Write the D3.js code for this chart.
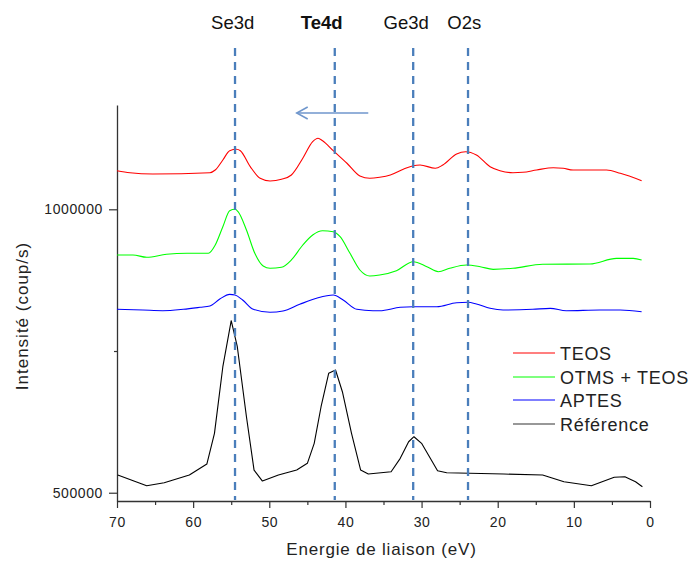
<!DOCTYPE html>
<html>
<head>
<meta charset="utf-8">
<script src="https://cdn.jsdelivr.net/npm/d3@7"></script>
<style>
  html, body { margin: 0; padding: 0; background: #fff; }
  svg { display: block; font-family: "Liberation Sans", Arial, sans-serif; }
</style>
</head>
<body>
<svg id="chart" width="692" height="561"></svg>
<script>
// ---- data (binding energy eV, intensity counts/s) ----
const teosE = [70.0,68.3,65.3,57.8,57.1,56.1,55.2,54.3,53.8,52.5,51.2,49.9,48.4,47.1,45.6,44.3,43.6,43.0,41.6,39.8,38.1,36.8,35.5,34.1,32.4,31.1,30.2,28.2,27.2,25.4,24.2,22.8,21.0,19.7,18.0,16.7,14.9,12.7,11.4,10.1,5.7,3.9,1.1];
const teosI = [1068100,1064600,1062300,1064600,1069300,1087000,1103400,1105900,1103400,1075200,1054700,1049900,1052900,1060500,1090000,1119300,1125300,1121000,1103400,1081200,1058800,1054700,1056500,1060500,1070600,1076900,1078200,1072300,1078200,1097600,1101600,1095800,1075200,1068100,1064600,1065300,1069300,1073400,1072300,1069300,1069300,1063500,1050500];

const otmsE = [70.0,67.9,66.1,63.5,60.8,58.0,57.1,56.1,55.2,54.5,54.1,53.0,51.9,50.8,49.9,48.4,47.1,45.6,44.3,43.0,41.6,40.7,39.4,38.1,36.8,35.5,33.3,31.1,29.3,27.8,26.3,24.1,22.3,20.6,18.0,14.1,7.9,4.4,2.2,1.1];
const otmsI = [919400,919400,915300,920600,922400,922400,937000,969300,997500,1000000,995800,963500,922400,900000,895900,897700,910600,937000,954700,962200,960500,951700,922400,892900,882300,884100,891700,907600,898700,889900,895900,901700,898700,894100,895900,903000,903500,913500,913500,910600];

const aptesE = [70.0,66.6,64.0,61.3,59.1,57.8,56.5,55.2,54.5,53.5,52.1,49.9,48.2,46.0,43.8,41.6,40.3,38.5,36.4,35.5,32.8,31.1,28.0,25.4,23.9,22.8,21.0,19.3,15.4,13.1,11.0,6.6,3.9,1.1];
const aptesI = [823600,822300,821100,823600,827100,829400,841700,850000,848800,840000,823600,818300,820600,832400,843000,848800,840000,823600,821100,821100,827100,828200,828200,835200,835900,832900,825300,822300,823600,825300,821100,822300,822300,819300];

const refE = [69.9,66.1,63.8,60.5,58.2,57.2,56.1,55.0,54.2,53.0,52.0,50.9,48.8,46.4,45.0,44.1,43.2,42.2,41.3,40.4,39.2,38.0,37.0,34.0,32.8,31.7,31.0,30.0,27.9,26.7,19.2,14.1,11.3,7.7,4.7,3.3,1.9,1.0];
const refI = [531200,512350,517650,531200,550600,604800,722300,803500,757600,634100,540000,520600,531200,540000,551900,587150,651700,710650,716500,678200,604800,540000,533000,537050,560700,589950,598800,587150,538800,535300,533000,531200,519400,512350,527200,528200,519400,510600];

const seriesNames = ["TEOS", "OTMS + TEOS", "APTES", "Référence"];
const seriesColors = ["#ff0000", "#00ff00", "#0000ff", "#000000"];
const legendColors = ["#ff0000", "#00ff00", "#0000ff", "#333333"];

const xTicks = [70, 60, 50, 40, 30, 20, 10, 0];
const xMinorTicks = [65, 55, 45, 35, 25, 15, 5];
const yTicks = [1000000, 500000];
const yMinorTicks = [750000];

const peakNames = ["Se3d", "Te4d", "Ge3d", "O2s"];
const peakPositions = [54.5, 41.4, 31.1, 23.9];
const peakBold = [false, true, false, false];
const arrowFrom = 37.0, arrowTo = 46.4;

// ---- layout ----
const svg = d3.select("#chart");
const mLeft = 117, mRight = 650, mTop = 105, mBottom = 501;
const x = d3.scaleLinear().domain([70, 0]).range([mLeft, mRight]);
const y = d3.scaleLinear().domain([485400, 1184000]).range([mBottom, mTop]);

const axisColor = "#333";
const textColor = "#222";

// x axis
const gx = svg.append("g").attr("transform", `translate(0,${mBottom})`)
  .call(d3.axisBottom(x).tickValues(xTicks).tickSize(7).tickSizeOuter(0).tickPadding(6).tickFormat(d3.format("d")));
svg.append("g").attr("transform", `translate(0,${mBottom})`)
  .call(d3.axisBottom(x).tickValues(xMinorTicks).tickSize(4).tickSizeOuter(0).tickFormat(""))
  .call(g => g.select(".domain").remove());
// y axis
const gy = svg.append("g").attr("transform", `translate(${mLeft},0)`)
  .call(d3.axisLeft(y).tickValues(yTicks).tickSize(8).tickSizeOuter(0).tickPadding(6).tickFormat(d3.format("d")));
svg.append("g").attr("transform", `translate(${mLeft},0)`)
  .call(d3.axisLeft(y).tickValues(yMinorTicks).tickSize(3).tickSizeOuter(0).tickFormat(""))
  .call(g => g.select(".domain").remove());

svg.selectAll(".domain").attr("stroke", axisColor).attr("stroke-width", 1.3);
svg.selectAll(".tick line").attr("stroke", axisColor).attr("stroke-width", 1.2);
svg.selectAll(".tick text").attr("fill", textColor).style("font-size", "14px")
  .style("letter-spacing", "0.6px").style("font-family", "'Liberation Sans', Arial, sans-serif");
gx.selectAll(".tick text").attr("dy", "0.9em");

// axis titles
svg.append("text").attr("x", (mLeft + mRight) / 2 - 2).attr("y", 555)
  .attr("text-anchor", "middle").attr("fill", textColor)
  .style("font-size", "17px").style("letter-spacing", "0.8px")
  .text("Energie de liaison (eV)");
svg.append("text").attr("transform", "translate(28,316) rotate(-90)")
  .attr("text-anchor", "middle").attr("fill", textColor)
  .style("font-size", "17px").style("letter-spacing", "1px")
  .text("Intensité (coup/s)");

// series
const allSeries = [
  teosE.map((e, i) => [e, teosI[i]]),
  otmsE.map((e, i) => [e, otmsI[i]]),
  aptesE.map((e, i) => [e, aptesI[i]]),
  refE.map((e, i) => [e, refI[i]])
];
const smooth = d3.line().x(d => x(d[0])).y(d => y(d[1])).curve(d3.curveMonotoneX);
const straight = d3.line().x(d => x(d[0])).y(d => y(d[1]));
allSeries.forEach((s, i) => {
  svg.append("path").datum(s)
    .attr("d", i === 3 ? straight : smooth)
    .attr("fill", "none").attr("stroke", seriesColors[i]).attr("stroke-width", 1.1)
    .attr("stroke-linejoin", "round");
});

// dashed peak lines
const peakColor = "#4a7ebb";
svg.selectAll(".peak").data(peakPositions).join("line")
  .attr("x1", d => x(d)).attr("x2", d => x(d))
  .attr("y1", 48).attr("y2", 500)
  .attr("stroke", peakColor).attr("stroke-width", 2.3)
  .attr("stroke-dasharray", "8,6");

const labelDx = [-2.3, -13, -7, -3.7];
svg.selectAll(".peaklabel").data(peakNames).join("text")
  .attr("x", (d, i) => x(peakPositions[i]) + labelDx[i])
  .attr("y", 28.5).attr("text-anchor", "middle")
  .attr("fill", "#111")
  .style("font-size", "18.5px")
  .style("font-weight", (d, i) => peakBold[i] ? "bold" : "normal")
  .text(d => d);

// arrow
const ay = 113;
const ax1 = x(arrowFrom), ax2 = x(arrowTo);
const arrowColor = "#6f96cc";
svg.append("line").attr("x1", ax1).attr("x2", ax2).attr("y1", ay).attr("y2", ay)
  .attr("stroke", arrowColor).attr("stroke-width", 1.5);
svg.append("path")
  .attr("d", `M${ax2 + 11},${ay - 6} L${ax2},${ay} L${ax2 + 11},${ay + 6}`)
  .attr("fill", "none").attr("stroke", arrowColor).attr("stroke-width", 1.5);

// legend
const legY = [353, 377, 400, 424];
const leg = svg.append("g");
seriesNames.forEach((n, i) => {
  leg.append("line").attr("x1", 513).attr("x2", 555).attr("y1", legY[i]).attr("y2", legY[i])
    .attr("stroke", legendColors[i]).attr("stroke-width", 1.2);
  leg.append("text").attr("x", 560).attr("y", legY[i] + 6.5)
    .attr("fill", textColor).style("font-size", "18px").style("letter-spacing", "0.7px")
    .text(n);
});
</script>
</body>
</html>
